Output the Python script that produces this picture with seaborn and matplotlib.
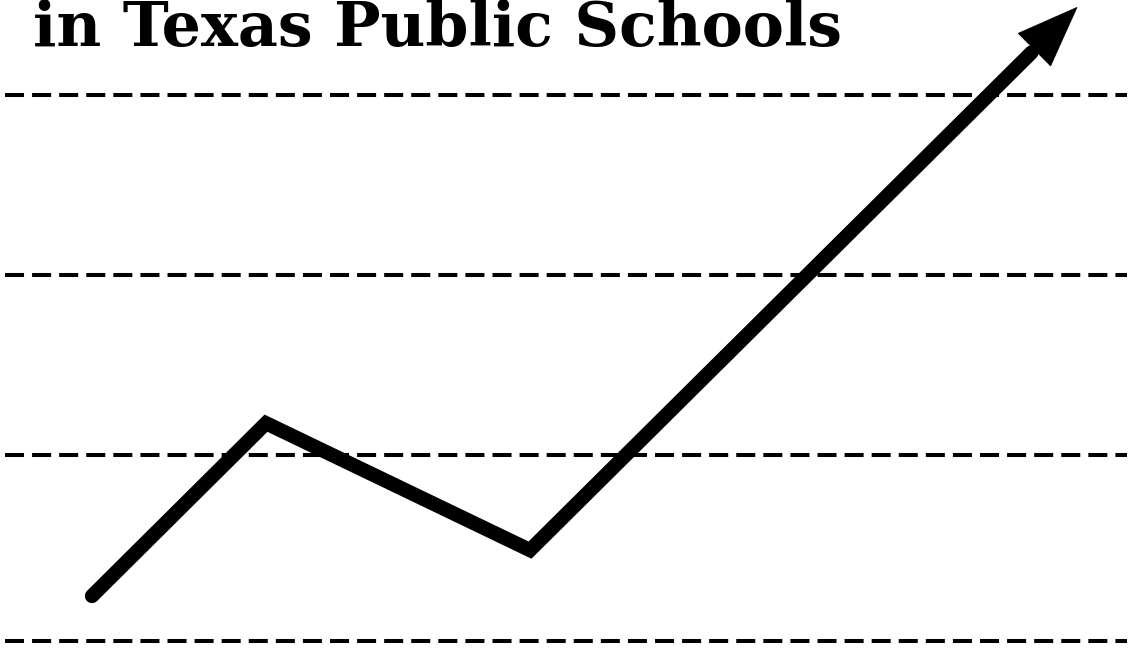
"""
Rising trend chart - "in Texas Public Schools"
Dashed reference lines with a thick black trend line ending in an arrow.
"""

import numpy as np
import pandas as pd
import matplotlib
matplotlib.use("Agg")
import matplotlib.pyplot as plt
from matplotlib.patches import Polygon
import seaborn as sns

# ─────────────────────────────────────────
# Data
# ─────────────────────────────────────────
title_text = "in Texas Public Schools"
stage = [0.92, 2.66, 5.30, 10.77]       # horizontal position of each point
level = [0.25, 1.21, 0.505, 3.52]       # trend value, last one is the arrow tip
grid_levels = [0.0, 1.033, 2.033, 3.033]  # dashed reference lines

df = pd.DataFrame({"stage": stage, "level": level})

# ─────────────────────────────────────────
# Figure
# ─────────────────────────────────────────
sns.set_theme(style="white")
plt.rcParams["lines.scale_dashes"] = False

DPI = 100
fig = plt.figure(figsize=(11.32, 6.50), dpi=DPI)
ax = fig.add_axes([0, 0, 1, 1])
ax.set_xlim(0, 11.32)
ax.set_ylim(-0.05, 3.561)
ax.set_axis_off()

# dashed reference lines
for g in grid_levels:
    ax.axhline(g, xmin=5 / 1132, xmax=1127 / 1132, color="black",
               linewidth=2.9, dashes=(13.7, 5.8), solid_capstyle="butt",
               dash_capstyle="butt", zorder=1)

# trend line: stop the shaft where the arrowhead begins
fig.canvas.draw()
to_disp = ax.transData.transform
to_data = ax.transData.inverted().transform
tip = to_disp((df["stage"].iloc[-1], df["level"].iloc[-1]))
prev = to_disp((df["stage"].iloc[-2], df["level"].iloc[-2]))
u = (tip - prev) / np.linalg.norm(tip - prev)
n = np.array([-u[1], u[0]])
head_len, head_half = 60, 23
base = tip - head_len * u

shaft = df.copy()
shaft.iloc[-1] = to_data(base - 4 * u)

sns.lineplot(data=shaft, x="stage", y="level", sort=False, estimator=None,
             color="black", linewidth=10.3, ax=ax, zorder=3)
for line in ax.lines[len(grid_levels):]:
    line.set_solid_capstyle("round")
    line.set_solid_joinstyle("miter")

head = np.array([tip, base + head_half * n, base - head_half * n])
ax.add_patch(Polygon(to_data(head), closed=True, facecolor="black",
                     edgecolor="black", linewidth=0.5, zorder=4))

# title, sitting right against the top edge
fig.text(33 / 1132, 1 - 46 / 650, title_text, family="DejaVu Serif",
         fontweight="bold", fontsize=44.5, color="black",
         ha="left", va="baseline")

fig.savefig("out.png", dpi=DPI)
